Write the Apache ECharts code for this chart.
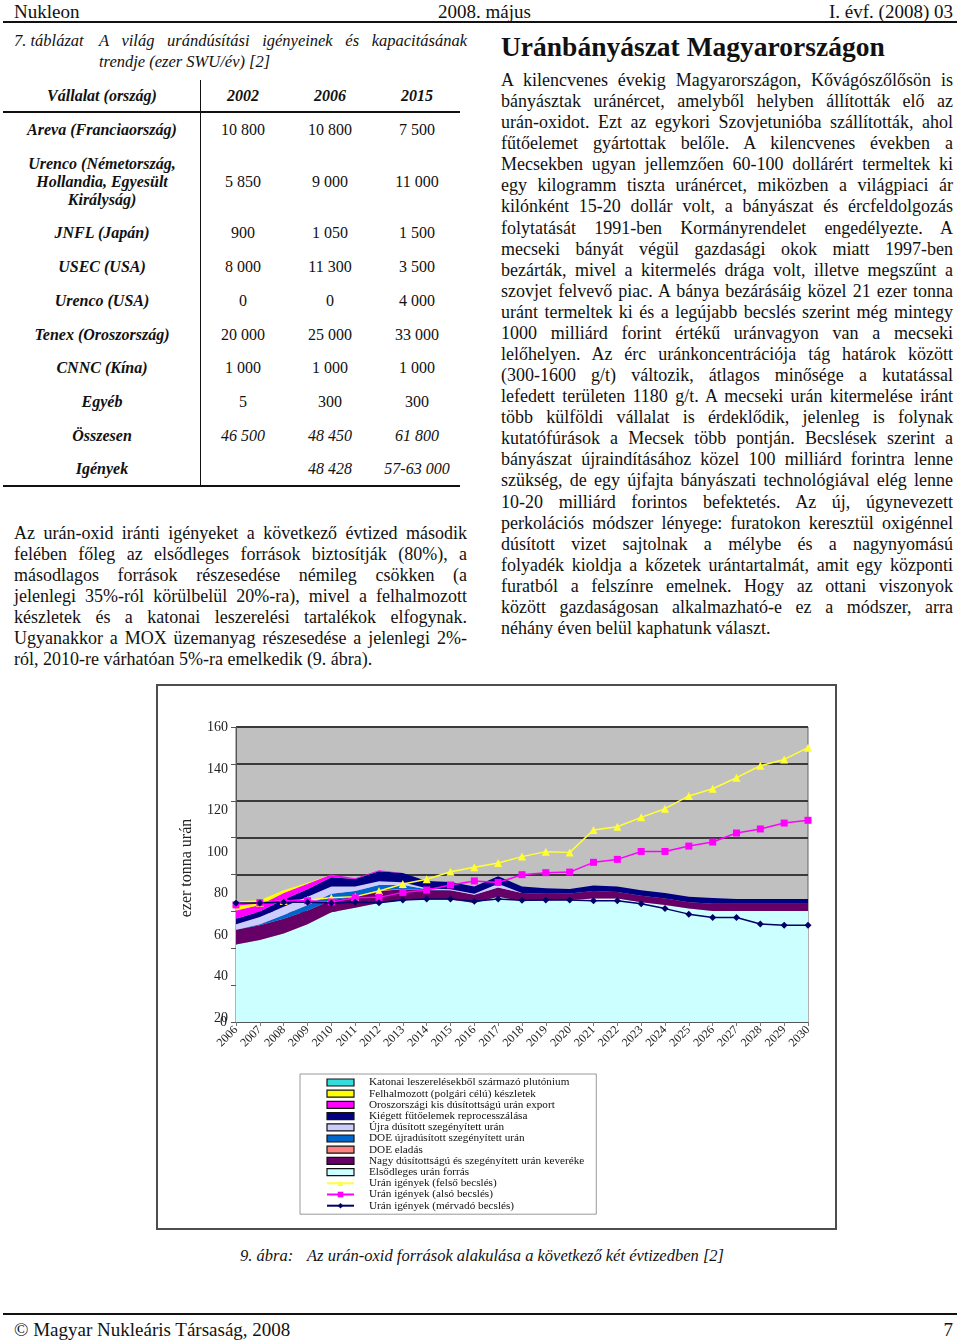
<!DOCTYPE html>
<html><head><meta charset="utf-8">
<script src="https://cdn.jsdelivr.net/npm/echarts@6/dist/echarts.min.js"></script>
<style>
body{margin:0;background:#fff;}
#page{position:relative;width:960px;height:1343px;overflow:hidden;font-family:"Liberation Serif","Times New Roman",serif;color:#111;background:#fff;}
.abs{position:absolute;white-space:nowrap;}
.para{position:absolute;font-size:18px;}
.para div{text-align:justify;text-align-last:justify;white-space:normal;}
.para div.last{text-align-last:left;}
.lbl{position:absolute;left:2px;width:200px;text-align:center;font-weight:bold;font-style:italic;font-size:16px;line-height:18px;}
.val{position:absolute;width:100px;text-align:center;font-size:16px;line-height:20px;}
.hr{position:absolute;background:#111;}
#frame{position:absolute;left:156px;top:684px;width:681px;height:546px;box-sizing:border-box;border:2px solid #4d4d4d;}
#chart{position:absolute;left:0;top:0;width:677px;height:542px;}
</style></head>
<body><div id="page">
<div class="abs" style="left:14px;top:0px;font-size:19px;line-height:24px">Nukleon</div>
<div class="abs" style="left:438px;top:0px;font-size:19px;line-height:24px">2008. május</div>
<div class="abs" style="right:7px;top:0px;font-size:19px;line-height:24px">I. évf. (2008) 03</div>
<div class="hr" style="left:3px;top:21px;width:954px;height:2px"></div>

<div class="abs" style="left:14px;top:30px;font-size:16.5px;line-height:21px;font-style:italic">7. táblázat</div>
<div class="abs" style="left:99px;top:30px;width:368px;font-size:16.5px;line-height:21px;font-style:italic;text-align:justify;text-align-last:justify;white-space:normal">A világ urándúsítási igényeinek és kapacitásának</div>
<div class="abs" style="left:99px;top:51px;font-size:16.5px;line-height:21px;font-style:italic">trendje (ezer SWU/év) [2]</div>

<div id="table"></div>

<div class="para" id="leftPara" style="left:14px;top:523px;width:453px;line-height:21px"></div>

<div class="abs" style="left:501px;top:31px;font-size:27.5px;line-height:32px;font-weight:bold">Uránbányászat Magyarországon</div>
<div class="para" id="rightPara" style="left:501px;top:70px;width:452px;line-height:21.08px"></div>

<div id="frame"><div id="chart"></div></div>

<div class="abs" style="left:240px;top:1246px;font-size:16.5px;line-height:20px;font-style:italic">9. ábra:</div>
<div class="abs" style="left:307px;top:1246px;font-size:16.5px;line-height:20px;font-style:italic">Az urán-oxid források alakulása a következő két évtizedben [2]</div>

<div class="hr" style="left:3px;top:1313px;width:954px;height:2px"></div>
<div class="abs" style="left:14px;top:1318px;font-size:19px;line-height:24px">© Magyar Nukleáris Társaság, 2008</div>
<div class="abs" style="right:7px;top:1318px;font-size:19px;line-height:24px">7</div>
</div>
<script>
// ---------- chart data ----------
const years = ['2006','2007','2008','2009','2010','2011','2012','2013','2014','2015','2016','2017','2018','2019','2020','2021','2022','2023','2024','2025','2026','2027','2028','2029','2030'];
const primary         = [42, 44.5, 48, 53, 59.5, 62, 64.5, 66, 66.5, 66.5, 64.5, 68, 65.5, 66, 66.2, 67, 67, 65, 63.5, 61.5, 60.2, 60.2, 60.2, 60.2, 60.2];
const heuBlend        = [8, 8, 8, 7.5, 6.5, 6, 6.5, 6, 5, 5, 4.5, 5, 4.5, 3.5, 3.5, 4, 3.5, 3.5, 3.5, 3.5, 4, 4, 4, 4, 4];
const doeSale         = [0, 0, 0, 0, 0, 0, 0.3, 0.3, 0, 0, 0, 0, 0, 0, 0, 0, 0, 0, 0, 0, 0, 0, 0, 0, 0];
const doeReenriched   = [0, 0.5, 2, 3, 3.5, 3, 3, 2, 0.5, 0, 0, 0, 0, 0, 0, 0, 0, 0, 0, 0, 0, 0, 0, 0, 0];
const reenrichedTails = [3, 4, 4.5, 4.5, 4, 2.5, 2, 1.5, 0.5, 0.5, 0.5, 2, 0, 0, 0, 0, 0, 0, 0, 0, 0, 0, 0, 0, 0];
const reprocessing    = [3, 3, 4, 4, 5, 4, 5.5, 5, 4, 4, 4, 4, 3.5, 3, 2.5, 3, 3, 3, 3, 3, 3, 2.5, 2.5, 2.5, 2.5];
const russianLEU      = [4.5, 3.5, 3.5, 3, 1.5, 0.5, 0.5, 0, 0, 0, 0, 0, 0, 0, 0, 0, 0, 0, 0, 0, 0, 0, 0, 0, 0];
const stockpiles      = [5, 2.5, 1.5, 0.5, 0, 0, 0, 0, 0, 0, 0, 0, 0, 0, 0, 0, 0, 0, 0, 0, 0, 0, 0, 0, 0];
const militaryPu      = [0, 0, 0, 0, 0, 0, 0, 0, 0, 0, 0, 0, 0, 0, 0, 0, 0, 0, 0, 0, 0, 0, 0, 0, 0];
const demandHigh = [64.7, 64.7, 65.6, 66.2, 67.4, 68.0, 71.0, 74.8, 77.4, 81.5, 83.9, 86.2, 89.7, 92.4, 92.0, 104.1, 105.9, 111.0, 115.7, 122.6, 126.5, 132.5, 139.0, 142.4, 148.8];
const demandLow  = [63.5, 64.7, 65.8, 65.8, 65.1, 67.4, 67.6, 70.3, 71.6, 74.3, 76.5, 75.7, 79.9, 81.0, 81.3, 86.6, 88.2, 92.5, 92.5, 95.4, 97.6, 102.5, 104.7, 107.9, 109.4];
const demandRef  = [64.5, 64.5, 65, 65, 64.5, 65, 64.7, 66.2, 66.7, 66.7, 65.5, 66.7, 66, 66.2, 66.2, 65.7, 65.7, 64.1, 61.5, 58.5, 56.7, 56.7, 53.1, 52.5, 52.5];
const yTickLabels = [20, 40, 60, 80, 100, 120, 140, 160];

// ---------- page text ----------
const tableRows = [
  [['Areva (Franciaország)'], '10 800', '10 800', '7 500', 130, false],
  [['Urenco (Németország,', 'Hollandia, Egyesült', 'Királyság)'], '5 850', '9 000', '11 000', 182, false],
  [['JNFL (Japán)'], '900', '1 050', '1 500', 233, false],
  [['USEC (USA)'], '8 000', '11 300', '3 500', 267, false],
  [['Urenco (USA)'], '0', '0', '4 000', 301, false],
  [['Tenex (Oroszország)'], '20 000', '25 000', '33 000', 335, false],
  [['CNNC (Kína)'], '1 000', '1 000', '1 000', 368, false],
  [['Egyéb'], '5', '300', '300', 402, false],
  [['Összesen'], '46 500', '48 450', '61 800', 436, true],
  [['Igények'], '', '48 428', '57-63 000', 469, true]
];
const leftLines = [
 'Az urán-oxid iránti igényeket a következő évtized második',
 'felében főleg az elsődleges források biztosítják (80%), a',
 'másodlagos források részesedése némileg csökken (a',
 'jelenlegi 35%-ról körülbelül 20%-ra), mivel a felhalmozott',
 'készletek és a katonai leszerelési tartalékok elfogynak.',
 'Ugyanakkor a MOX üzemanyag részesedése a jelenlegi 2%-',
 'ról, 2010-re várhatóan 5%-ra emelkedik (9. ábra).'
];
const rightLines = [
 'A kilencvenes évekig Magyarországon, Kővágószőlősön is',
 'bányásztak uránércet, amelyből helyben állították elő az',
 'urán-oxidot. Ezt az egykori Szovjetunióba szállították, ahol',
 'fűtőelemet gyártottak belőle. A kilencvenes években a',
 'Mecsekben ugyan jellemzően 60-100 dollárért termeltek ki',
 'egy kilogramm tiszta uránércet, miközben a világpiaci ár',
 'kilónként 15-20 dollár volt, a bányászat és ércfeldolgozás',
 'folytatását 1991-ben Kormányrendelet engedélyezte. A',
 'mecseki bányát végül gazdasági okok miatt 1997-ben',
 'bezárták, mivel a kitermelés drága volt, illetve megszűnt a',
 'szovjet felvevő piac. A bánya bezárásáig közel 21 ezer tonna',
 'uránt termeltek ki és a legújabb becslés szerint még mintegy',
 '1000 milliárd forint értékű uránvagyon van a mecseki',
 'lelőhelyen. Az érc uránkoncentrációja tág határok között',
 '(300-1600 g/t) változik, átlagos minősége a kutatással',
 'lefedett területen 1180 g/t. A mecseki urán kitermelése iránt',
 'több külföldi vállalat is érdeklődik, jelenleg is folynak',
 'kutatófúrások a Mecsek több pontján. Becslések szerint a',
 'bányászat újraindításához közel 100 milliárd forintra lenne',
 'szükség, de egy újfajta bányászati technológiával elég lenne',
 '10-20 milliárd forintos befektetés. Az új, úgynevezett',
 'perkolációs módszer lényege: furatokon keresztül oxigénnel',
 'dúsított vizet sajtolnak a mélybe és a nagynyomású',
 'folyadék kioldja a kőzetek urántartalmát, amit egy központi',
 'furatból a felszínre emelnek. Hogy az ottani viszonyok',
 'között gazdaságosan alkalmazható-e ez a módszer, arra',
 'néhány éven belül kaphatunk választ.'
];

function fillPara(id, lines) {
  const el = document.getElementById(id);
  lines.forEach((t, i) => {
    const d = document.createElement('div');
    d.textContent = t;
    if (i === lines.length - 1) d.className = 'last';
    el.appendChild(d);
  });
}
fillPara('leftPara', leftLines);
fillPara('rightPara', rightLines);

(function buildTable() {
  const t = document.getElementById('table');
  let h = '';
  const cx = [243, 330, 417];
  h += '<div class="lbl" style="top:87px">Vállalat (ország)</div>';
  ['2002', '2006', '2015'].forEach((y, k) => {
    h += '<div class="val" style="left:' + (cx[k] - 50) + 'px;top:86px;font-weight:bold;font-style:italic">' + y + '</div>';
  });
  tableRows.forEach(r => {
    const lines = r[0], yc = r[4];
    const top = yc - lines.length * 9;
    h += '<div class="lbl" style="top:' + top + 'px">' + lines.join('<br>') + '</div>';
    for (let k = 0; k < 3; k++) {
      h += '<div class="val" style="left:' + (cx[k] - 50) + 'px;top:' + (yc - 10) + 'px;' + (r[5] ? 'font-style:italic' : '') + '">' + r[k + 1] + '</div>';
    }
  });
  h += '<div class="hr" style="left:3px;top:111px;width:457px;height:1.5px"></div>';
  h += '<div class="hr" style="left:3px;top:485px;width:457px;height:1.5px"></div>';
  h += '<div class="hr" style="left:199.5px;top:80px;width:1.3px;height:406px"></div>';
  t.innerHTML = h;
})();

// ---------- chart ----------
const FONT = 'Liberation Serif';
const areaDefs = [
  ['Elsődleges urán forrás', primary, '#ccffff'],
  ['Nagy dúsítottságú és szegényített urán keveréke', heuBlend, '#660066'],
  ['DOE eladás', doeSale, '#ff8080'],
  ['DOE újradúsított szegényített urán', doeReenriched, '#0066cc'],
  ['Újra dúsított szegényített urán', reenrichedTails, '#ccccff'],
  ['Kiégett fűtőelemek reprocesszálása', reprocessing, '#000080'],
  ['Oroszországi kis dúsítottságú urán export', russianLEU, '#ff00ff'],
  ['Felhalmozott (polgári célú) készletek', stockpiles, '#ffff00'],
  ['Katonai leszerelésekből származó plutónium', militaryPu, '#33dddd']
];
const lineDefs = [
  ['Urán igények (felső becslés)', demandHigh, '#ffff33', 'triangle', 8],
  ['Urán igények (alsó becslés)', demandLow, '#ff00ff', 'rect', 7],
  ['Urán igények (mérvadó becslés)', demandRef, '#000066', 'diamond', 7]
];
const series = [];
areaDefs.forEach(d => series.push({
  name: d[0], type: 'line', stack: 'src', data: d[1], showSymbol: false, symbol: 'none',
  lineStyle: { width: 0 }, itemStyle: { color: d[2] },
  areaStyle: { color: d[2], opacity: 1 }, z: 2, silent: true
}));
lineDefs.forEach(d => series.push({
  name: d[0], type: 'line', data: d[1], symbol: d[3], symbolSize: d[4],
  lineStyle: { width: 1.5, color: d[2] }, itemStyle: { color: d[2] }, z: 5, silent: true
}));
const legendData = [];
areaDefs.slice().reverse().forEach(d => legendData.push({
  name: d[0], icon: 'rect', itemStyle: { borderColor: '#111', borderWidth: 1.2 }
}));
lineDefs.forEach(d => legendData.push({ name: d[0] }));

const chart = echarts.init(document.getElementById('chart'), null, { renderer: 'canvas' });
chart.setOption({
  animation: false,
  backgroundColor: '#fff',
  textStyle: { fontFamily: FONT },
  grid: { left: 78, top: 41, width: 572, height: 295, show: true, backgroundColor: '#c0c0c0', borderColor: '#666', borderWidth: 1 },
  xAxis: {
    type: 'category', data: years, boundaryGap: false,
    axisLine: { lineStyle: { color: '#555', width: 1 } },
    axisTick: { show: true, length: 4, lineStyle: { color: '#777' } },
    axisLabel: { rotate: 45, interval: 0, fontSize: 12, fontFamily: FONT, color: '#222', margin: 6 }
  },
  yAxis: [
    {
      type: 'value', min: 0, max: 160, interval: 20,
      axisLine: { show: true, lineStyle: { color: '#555' } },
      axisTick: { show: true, length: 5, lineStyle: { color: '#555' } },
      splitLine: { show: true, lineStyle: { color: '#3a3a3a', width: 2 } },
      axisLabel: { formatter: v => (v === 0 ? '0' : ''), margin: 9, fontSize: 14, fontFamily: FONT, color: '#222' }
    },
    {
      type: 'value', min: 18.2, max: 160.2, position: 'left',
      axisLine: { show: false }, axisTick: { show: false }, splitLine: { show: false },
      axisLabel: { customValues: yTickLabels, margin: 8, fontSize: 14, fontFamily: FONT, color: '#222' }
    }
  ],
  legend: {
    orient: 'vertical', left: 142, top: 388, selectedMode: false,
    itemWidth: 27, itemHeight: 7, itemGap: 0.2,
    padding: [3, 12, 3, 26], borderColor: '#999', borderWidth: 1,
    textStyle: { fontSize: 11.2, lineHeight: 11, fontFamily: FONT, color: '#111', padding: [0, 0, 0, 10] },
    data: legendData
  },
  graphic: [{
    type: 'text', x: 29, y: 182, rotation: Math.PI / 2,
    style: { text: 'ezer tonna urán', font: '16px "Liberation Serif"', fill: '#222', align: 'center', verticalAlign: 'middle' }
  }],
  series: series
});
</script>
</body></html>
